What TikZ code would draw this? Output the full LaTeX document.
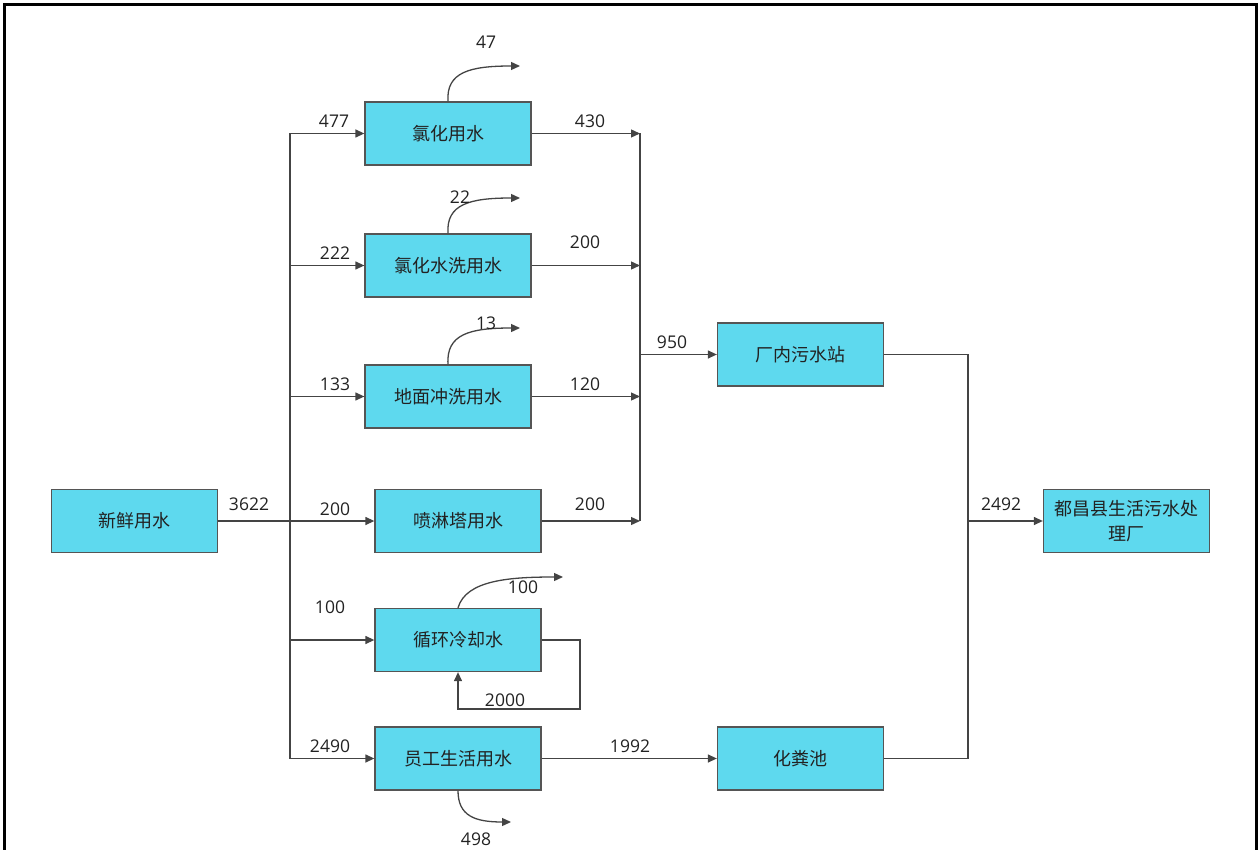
\documentclass[tikz,border=0pt]{standalone}
\usepackage{fontspec}
\setmainfont{Noto Sans CJK SC}
\newfontfamily\numfont{Open Sans}
\usetikzlibrary{arrows.meta}
\definecolor{boxfill}{HTML}{5ED9EE}
\definecolor{boxline}{HTML}{555555}
\definecolor{linec}{HTML}{444444}
\definecolor{txt}{HTML}{222222}
\begin{document}
\begin{tikzpicture}[x=1pt,y=-1pt,
  box/.style={draw=boxline, fill=boxfill, line width=1.3pt, minimum width=166pt, minimum height=63pt, inner sep=2pt, font=\fontsize{18}{25}\selectfont, text=txt, align=center},
  conn/.style={draw=linec, line width=1.3pt},
  arr/.style={conn, -{Triangle[length=9pt,width=8pt]}},
  lbl/.style={font=\numfont\fontsize{17.5}{20}\selectfont, text=txt, inner sep=0pt}]
\useasboundingbox (0,0) rectangle (1258,850);
\draw[line width=3pt] (4,851) -- (4,5) -- (1256,5) -- (1256,851);

% boxes
\node[box] (xin) at (134.5,521) {新鲜用水};
\node[box] (lh)  at (448,133.5) {氯化用水};
\node[box] (lhx) at (448,265.5) {氯化水洗用水};
\node[box] (dm)  at (448,396.5) {地面冲洗用水};
\node[box] (pl)  at (458,521) {喷淋塔用水};
\node[box] (xh)  at (458,640) {循环冷却水};
\node[box] (yg)  at (458,758.5) {员工生活用水};
\node[box] (wst) at (800.5,354.5) {厂内污水站};
\node[box] (hfc) at (800.5,758.5) {化粪池};
\node[box] (dc)  at (1126.5,521) {都昌县生活污水处\\理厂};

% trunk
\coordinate (jL) at (290,521);
\draw[conn] (xin.east) -- (jL);
\draw[conn] (jL |- lh.west) -- (jL |- yg.west);
\draw[arr] (jL |- lh.west) -- (lh.west);
\draw[arr] (jL |- lhx.west) -- (lhx.west);
\draw[arr] (jL |- dm.west) -- (dm.west);
\draw[arr] (jL) -- (pl.west);
\draw[arr] (jL |- xh.west) -- (xh.west);
\draw[arr] (jL |- yg.west) -- (yg.west);

% collector
\coordinate (cR) at (640,354.5);
\draw[conn] (cR |- lh.east) -- (cR |- pl.east);
\draw[arr] (lh.east) -- (lh.east -| cR);
\draw[arr] (lhx.east) -- (lhx.east -| cR);
\draw[arr] (dm.east) -- (dm.east -| cR);
\draw[arr] (pl.east) -- (pl.east -| cR);
\draw[arr] (cR) -- (wst.west);

% to plant
\coordinate (cR2) at (968,521);
\draw[conn] (wst.east) -- (wst.east -| cR2) -- (hfc.east -| cR2) -- (hfc.east);
\draw[arr] (cR2) -- (dc.west);
\draw[arr] (yg.east) -- (hfc.west);

% loop
\coordinate (lp1) at (580,640);
\coordinate (lp2) at (580,709);
\draw[arr] (xh.east) -- (lp1) -- (lp2) -- (lp2 -| xh.south) -- (xh.south);

% losses
\coordinate (o1) at (520,66);
\coordinate (o2) at (520,198);
\coordinate (o3) at (520,328);
\coordinate (o4) at (563,577);
\coordinate (o5) at (511,822);
\draw[arr] (lh.north) .. controls (446,72) and (470,66) .. (o1);
\draw[arr] (lhx.north) .. controls (446,204) and (470,198) .. (o2);
\draw[arr] (dm.north) .. controls (446,334) and (470,328) .. (o3);
\draw[arr] (xh.north) .. controls (466,580) and (510,577) .. (o4);
\draw[arr] (yg.south) .. controls (458,816) and (475,822) .. (o5);

% labels
\node[lbl] (l477) at (334,121) {477};
\node[lbl] (l430) at (590,121) {430};
\node[lbl] (l47) at (486,42) {47};
\node[lbl] (l222) at (335,253) {222};
\node[lbl] (l200a) at (585,242) {200};
\node[lbl] (l22) at (460,197) {22};
\node[lbl] (l133) at (335,384) {133};
\node[lbl] (l120) at (585,384) {120};
\node[lbl] (l13) at (486,323) {13};
\node[lbl] (l950) at (672,342) {950};
\node[lbl] (l3622) at (249,504) {3622};
\node[lbl] (l200b) at (335,509) {200};
\node[lbl] (l200c) at (590,504) {200};
\node[lbl] (l100a) at (330,607) {100};
\node[lbl] (l100b) at (523,587) {100};
\node[lbl] (l2000) at (505,700) {2000};
\node[lbl] (l2490) at (330,746) {2490};
\node[lbl] (l1992) at (630,746) {1992};
\node[lbl] (l498) at (476,839) {498};
\node[lbl] (l2492) at (1001,504) {2492};
\end{tikzpicture}
\end{document}
